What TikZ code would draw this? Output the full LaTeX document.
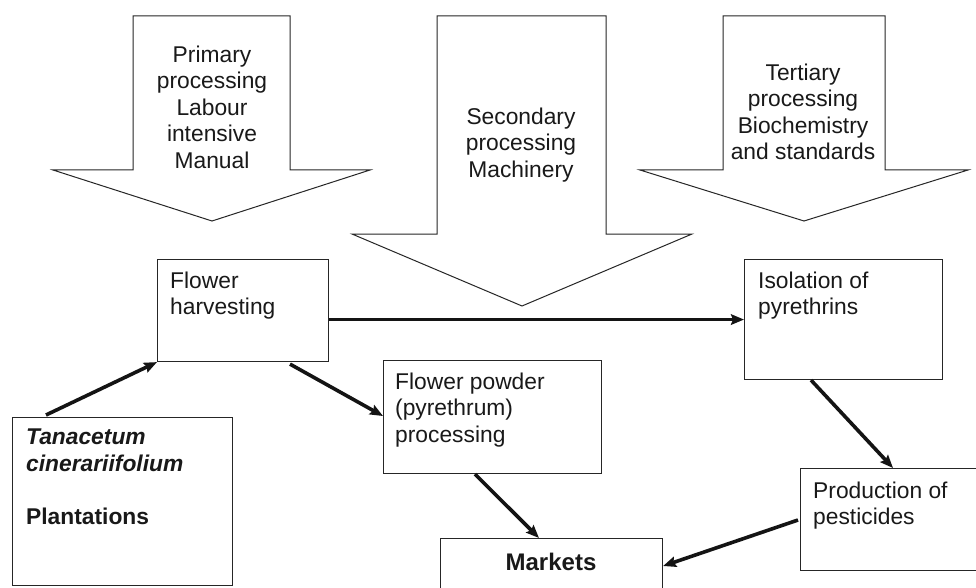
\documentclass[tikz,border=0pt]{standalone}
\usepackage{fontspec}
\setmainfont{Liberation Sans}
\usetikzlibrary{arrows.meta,calc}
\begin{document}
\begin{tikzpicture}[x=1pt,y=-1pt,
  box/.style={draw=black!85, line width=1.1pt, fill=white, inner sep=0pt, anchor=north west},
  bigarrow/.style={draw=black!85, line width=1pt, fill=white, line join=miter},
  txt/.style={inner sep=0pt, font=\fontsize{22.8}{26.5}\selectfont, text=black!90},
  conn/.style={line width=3.6pt, draw=black!92, -{Stealth[length=13pt,width=10.5pt,inset=2pt]}}
]
\clip (0,0) rectangle (976,588);
\fill[white] (0,0) rectangle (976,588);

% big process arrows
\draw[bigarrow] (133,16) -- (290,16) -- (290,170) -- (370,170) -- (212,221) -- (53,170) -- (133,170) -- cycle;
\draw[bigarrow] (437,16) -- (606,16) -- (606,234) -- (692,234) -- (522,306) -- (352,234) -- (437,234) -- cycle;
\draw[bigarrow] (723,16) -- (885,16) -- (885,170) -- (968,170) -- (804,221) -- (640,170) -- (723,170) -- cycle;

\node[txt, align=center, anchor=north] (ptxt) at (212,45.7) {Primary\\processing\\Labour\\intensive\\Manual};
\node[txt, align=center, anchor=north] (stxt) at (521,107.7) {Secondary\\processing\\Machinery};
\node[txt, align=center, anchor=north] (ttxt) at (803,63.7) {Tertiary\\processing\\Biochemistry\\and standards};

% boxes
\node[box, minimum width=171pt, minimum height=102pt] (fh) at (157,259) {};
\node[box, minimum width=220pt, minimum height=168pt] (plant) at (12,417) {};
\node[box, minimum width=218pt, minimum height=113pt] (fp) at (383,360) {};
\node[box, minimum width=198pt, minimum height=120pt] (iso) at (744,259) {};
\node[box, minimum width=200pt, minimum height=102pt] (prod) at (800,468) {};
\node[box, minimum width=222pt, minimum height=70pt] (mk) at (440,538) {};

\node[txt, align=left, anchor=north west] (fhtxt) at (170,271.7) {Flower\\harvesting};
\node[txt, align=left, anchor=north west] (planttxt) at (26,428.7) {\textbf{\textit{Tanacetum}}\\\textbf{\textit{cinerariifolium}}\\[26.5pt]\textbf{Plantations}};
\node[txt, align=left, anchor=north west] (fptxt) at (395,372.7) {Flower powder\\(pyrethrum)\\processing};
\node[txt, align=left, anchor=north west] (isotxt) at (758,271.7) {Isolation of\\pyrethrins};
\node[txt, align=left, anchor=north west] (prodtxt) at (813,481.7) {Production of\\pesticides};
\node[txt, font=\fontsize{24}{28}\selectfont\bfseries, anchor=north] (mktxt) at (551,552.8) {Markets};

% connectors
\draw[conn] ($(plant.north west)+(34,-2)$) -- (fh.south west);
\draw[conn] ($(fh.south west)+(133,2)$) -- ($(fp.north west)+(0,56)$);
\draw[conn] (fh.east |- iso.west) -- (iso.west);
\draw[conn] ($(fp.south west)+(92,0)$) -- ($(mk.north west)+(99,0)$);
\draw[conn] ($(iso.south west)+(67,0)$) -- ($(prod.north west)+(93,0)$);
\draw[conn] ($(prod.north west)+(-2,52)$) -- ($(mk.north east)+(0,28)$);
\end{tikzpicture}
\end{document}
